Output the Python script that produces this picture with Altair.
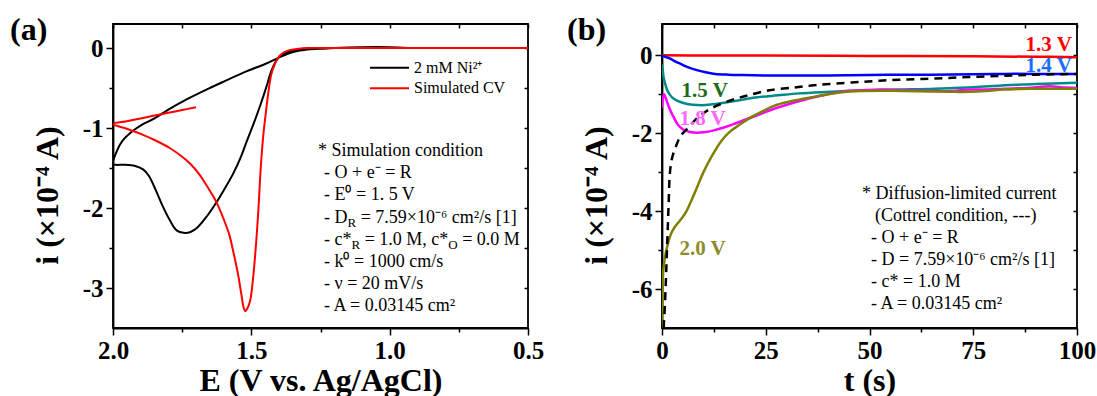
import altair as alt
import pandas as pd

FONT = "Liberation Serif"

# ---------------- Panel (a) data ----------------
e_ni = [0.93, 1.00, 1.10, 1.20, 1.26, 1.30, 1.35, 1.40, 1.45, 1.516, 1.60, 1.65, 1.744, 1.80, 1.85,
        1.896, 1.93, 1.966, 1.985, 2.0,
        1.99, 1.96, 1.92, 1.89, 1.87, 1.845, 1.82, 1.795, 1.77, 1.745, 1.72, 1.694, 1.66, 1.63,
        1.60, 1.567, 1.54, 1.516, 1.49, 1.466, 1.445, 1.428, 1.41, 1.39, 1.36, 1.327, 1.25, 1.20,
        1.10, 1.00, 0.93]
i_ni = [0.0, 0.01, 0.01, 0.0, -0.01, -0.02, -0.05, -0.12, -0.2, -0.29, -0.42, -0.5, -0.66, -0.77, -0.88,
        -0.96, -1.04, -1.16, -1.28, -1.45,
        -1.46, -1.46, -1.475, -1.52, -1.6, -1.78, -1.98, -2.15, -2.28, -2.31, -2.3, -2.24, -2.1, -1.95,
        -1.78, -1.58, -1.38, -1.16, -0.93, -0.70, -0.48, -0.29, -0.16, -0.08, -0.04, -0.02, -0.01, 0.0,
        0.01, 0.01, 0.0]

e_sim = [1.70, 1.75, 1.80, 1.85, 1.90, 1.95, 2.0, 1.95, 1.896, 1.85, 1.795, 1.75, 1.72, 1.69, 1.656,
         1.635, 1.618, 1.60, 1.58, 1.565, 1.548, 1.536, 1.528, 1.522, 1.515, 1.505, 1.495, 1.485,
         1.475, 1.466, 1.457, 1.447, 1.437, 1.428, 1.415, 1.403, 1.385, 1.365, 1.33, 1.30, 1.20,
         1.00, 0.50]
i_sim = [-0.74, -0.775, -0.81, -0.845, -0.88, -0.915, -0.95, -1.01, -1.08, -1.15, -1.25, -1.36, -1.45,
         -1.57, -1.75, -1.87, -1.99, -2.14, -2.33, -2.55, -2.83, -3.08, -3.24, -3.29, -3.26, -3.17,
         -2.92, -2.54, -2.05, -1.5, -1.1, -0.79, -0.52, -0.33, -0.2, -0.12, -0.06, -0.03, -0.01,
         0.0, 0.0, 0.0, 0.0]

cv_names = ["2 mM Ni²⁺", "Simulated CV"]
cv_colors = ["#000000", "#ff0000"]

# ---------------- Panel (b) data ----------------
t_13 = [0, 10, 25, 50, 75, 90, 100]
i_13 = [0.0, -0.01, -0.01, -0.02, -0.03, -0.04, -0.05]

t_14 = [0, 0.5, 1, 2, 3, 4, 5.2, 6.5, 8.6, 10.5, 12.8, 16, 19.5, 25, 32, 40, 50, 57, 65, 75, 82.5, 90, 100]
i_14 = [-0.02, -0.03, -0.05, -0.09, -0.15, -0.2, -0.26, -0.32, -0.39, -0.44, -0.48, -0.5, -0.51,
        -0.52, -0.52, -0.52, -0.51, -0.5, -0.5, -0.49, -0.48, -0.48, -0.48]

t_15 = [0, 0.2, 0.4, 0.8, 1.2, 1.8, 2.5, 3.5, 5, 6.5, 8.6, 10.5, 12.8, 16, 19.5, 23, 27.9, 33, 40.5,
        49, 57, 65.8, 75, 82.6, 90, 100]
i_15 = [-0.24, -0.4, -0.58, -0.75, -0.88, -1.0, -1.09, -1.16, -1.22, -1.26, -1.28, -1.28, -1.25,
        -1.2, -1.14, -1.08, -1.03, -0.98, -0.94, -0.9, -0.88, -0.86, -0.82, -0.77, -0.74, -0.71]

t_18 = [0, 0.2, 0.5, 0.9, 1.5, 2.1, 3, 3.8, 5, 6.7, 8.5, 10, 12.5, 15.1, 17.5, 20.2, 24, 27.7, 32,
        36.1, 40, 44.5, 48, 52.9, 58, 65.5, 70, 74, 78, 82.4, 88, 93.4, 96, 100]
i_18 = [-1.35, -1.1, -1.0, -1.1, -1.28, -1.44, -1.63, -1.78, -1.9, -1.97, -1.99, -1.98, -1.93, -1.85,
        -1.76, -1.65, -1.5, -1.35, -1.21, -1.09, -1.0, -0.92, -0.9, -0.88, -0.9, -0.92, -0.92, -0.88,
        -0.88, -0.86, -0.84, -0.8, -0.82, -0.84]

t_20 = [0, 0.1, 0.2, 0.5, 0.85, 1.4, 2.1, 3, 4.2, 5, 5.9, 7, 8.4, 10, 11.8, 14.3, 16.5, 18.5, 21,
        23.5, 27, 30.3, 33, 36.1, 40, 44.5, 48, 53, 58, 65.5, 70, 74, 78, 82.4, 86, 90.9, 95, 100]
i_20 = [-7.0, -6.4, -5.7, -5.35, -5.1, -4.85, -4.6, -4.42, -4.26, -4.15, -4.0, -3.75, -3.4, -3.0,
        -2.63, -2.2, -1.95, -1.8, -1.62, -1.48, -1.3, -1.2, -1.14, -1.08, -1.0, -0.94, -0.92, -0.91,
        -0.92, -0.93, -0.94, -0.94, -0.92, -0.88, -0.87, -0.86, -0.86, -0.86]

t_cot = [0.4, 0.7, 1.0, 1.3, 1.6, 1.85, 2.25, 2.8, 3.5, 4.5, 6.3, 8.4, 10.5, 13.1, 16.8, 20.4, 25.9,
         31.9, 36, 40.3, 48.7, 57, 65.5, 74, 82.4, 90, 100]
i_cot = [-7.0, -6.4, -5.6, -4.7, -3.8, -3.1, -2.72, -2.5, -2.3, -2.07, -1.86, -1.62, -1.45, -1.3,
         -1.15, -1.04, -0.9, -0.83, -0.78, -0.74, -0.68, -0.63, -0.6, -0.56, -0.53, -0.5, -0.48]

ca_names = ["1.3 V", "1.4 V", "1.5 V", "1.8 V", "2.0 V"]
ca_line_colors = ["#ff0000", "#0000ff", "#008b8b", "#ff00ff", "#808000"]
ca_label_colors = ["#ff0000", "#1c6dff", "#1d6b1d", "#ff66ff", "#8c8c2a"]
ca_label_t = [87.6, 87.6, 4.7, 4.2, 4.2]
ca_label_i = [0.27, -0.29, -0.93, -1.64, -4.98]

# ---------------- tables ----------------
cv = pd.DataFrame(
    [{"series": n, "E": e, "i": i, "k": k}
     for n, es, is_ in zip(cv_names, [e_ni, e_sim], [i_ni, i_sim])
     for k, (e, i) in enumerate(zip(es, is_))]
)
ca = pd.DataFrame(
    [{"series": n, "t": t, "i": i}
     for n, ts, is_ in zip(ca_names, [t_13, t_14, t_15, t_18, t_20], [i_13, i_14, i_15, i_18, i_20])
     for t, i in zip(ts, is_)]
)
cot = pd.DataFrame({"t": t_cot, "i": i_cot})
ca_lab = pd.DataFrame({"label": ca_names, "t": ca_label_t, "i": ca_label_i})

# ---------------- helpers ----------------
W, H = 415, 304


def tick_layers(df, xf, yf, xs, ys, xmin, ymin, xall, yall):
    minor = alt.Chart(df).mark_point(opacity=0).encode(
        x=alt.X(f"{xf}:Q", scale=xs, axis=alt.Axis(orient="bottom", values=xmin, labels=False,
                                                   domain=False, tickSize=4, title=None)),
        y=alt.Y(f"{yf}:Q", scale=ys, axis=alt.Axis(orient="left", values=ymin, labels=False,
                                                   domain=False, tickSize=4, title=None)),
    )
    mirror = alt.Chart(df).mark_point(opacity=0).encode(
        x=alt.X(f"{xf}:Q", scale=xs, axis=alt.Axis(orient="top", values=xall, labels=False,
                                                   domain=False, tickSize=4, offset=-4, title=None)),
        y=alt.Y(f"{yf}:Q", scale=ys, axis=alt.Axis(orient="right", values=yall, labels=False,
                                                   domain=False, tickSize=4, offset=-4, title=None)),
    )
    return [minor, mirror]


def txt(s, x, y, size=18, weight="normal", color="black"):
    return alt.Chart(alt.Data(values=[{}])).mark_text(
        text=s, font=FONT, fontSize=size, fontWeight=weight, color=color,
        align="left", baseline="middle"
    ).encode(x=alt.value(x), y=alt.value(y))


def legend_line(x1, x2, y, color):
    return alt.Chart(alt.Data(values=[{}])).mark_rule(color=color, strokeWidth=2).encode(
        x=alt.value(x1), x2=alt.value(x2), y=alt.value(y))


# ---------------- Panel (a) ----------------
xs_a = alt.Scale(domain=[0.5, 2.0], reverse=True, nice=False, zero=False)
ys_a = alt.Scale(domain=[-3.5, 0.3], nice=False, zero=False)
ylab = "datum.value < 0 ? '-' + format(-datum.value, 'd') : format(datum.value, 'd')"

lines_a = alt.Chart(cv).mark_line(strokeWidth=2, clip=True, interpolate="catmull-rom").encode(
    x=alt.X("E:Q", scale=xs_a, axis=alt.Axis(values=[2.0, 1.5, 1.0, 0.5],
                                            labelExpr="format(datum.value, '.1f')",
                                            title="E (V vs. Ag/AgCl)")),
    y=alt.Y("i:Q", scale=ys_a, axis=alt.Axis(values=[0, -1, -2, -3], labelExpr=ylab,
                                            title="i (×10⁻⁴ A)", titleY=171)),
    color=alt.Color("series:N", scale=alt.Scale(domain=cv_names, range=cv_colors), legend=None),
    order="k:Q",
)

ann_a = []
y0, dy = 127, 22.2
ann_a.append(txt("* Simulation condition", 205, y0))
ann_a.append(txt("- O + e⁻ = R", 211, y0 + dy))
ann_a.append(txt("- E⁰ = 1. 5 V", 211, y0 + 2 * dy))
ann_a.append(txt("- D", 211, y0 + 3 * dy))
ann_a.append(txt("R", 234.5, y0 + 3 * dy + 5, size=13))
ann_a.append(txt("= 7.59×10⁻⁶ cm²/s [1]", 247.7, y0 + 3 * dy))
ann_a.append(txt("- c*", 211, y0 + 4 * dy))
ann_a.append(txt("R", 238.5, y0 + 4 * dy + 5, size=13))
ann_a.append(txt("= 1.0 M, c*", 251.7, y0 + 4 * dy))
ann_a.append(txt("O", 335.3, y0 + 4 * dy + 5, size=13))
ann_a.append(txt("= 0.0 M", 349.2, y0 + 4 * dy))
ann_a.append(txt("- k⁰ = 1000 cm/s", 211, y0 + 5 * dy))
ann_a.append(txt("- ν = 20 mV/s", 211, y0 + 6 * dy))
ann_a.append(txt("- A = 0.03145 cm²", 211, y0 + 7 * dy))

leg_a = [
    legend_line(257, 296, 43.7, cv_colors[0]),
    legend_line(257, 296, 64.3, cv_colors[1]),
    txt(cv_names[0], 301, 43.7, size=16),
    txt(cv_names[1], 301, 64.3, size=16),
]

panel_a = alt.layer(
    lines_a,
    *tick_layers(cv, "E", "i", xs_a, ys_a, [1.75, 1.25, 0.75], [-0.5, -1.5, -2.5],
                 [2.0, 1.75, 1.5, 1.25, 1.0, 0.75, 0.5], [0, -0.5, -1, -1.5, -2, -2.5, -3]),
    *ann_a, *leg_a,
    txt("(a)", -103, 6, size=32, weight="bold"),
).resolve_scale(x="independent", y="independent", color="independent").properties(width=W, height=H)

# ---------------- Panel (b) ----------------
xs_b = alt.Scale(domain=[0, 100], nice=False, zero=False)
ys_b = alt.Scale(domain=[-7, 0.8], nice=False, zero=False)

lines_b = alt.Chart(ca).mark_line(strokeWidth=2.5, clip=True, interpolate="catmull-rom").encode(
    x=alt.X("t:Q", scale=xs_b, axis=alt.Axis(values=[0, 25, 50, 75, 100], format="d", title="t (s)")),
    y=alt.Y("i:Q", scale=ys_b, axis=alt.Axis(values=[0, -2, -4, -6], labelExpr=ylab,
                                            title="i (×10⁻⁴ A)", titleY=171)),
    color=alt.Color("series:N", scale=alt.Scale(domain=ca_names, range=ca_line_colors), legend=None),
)
dash_b = alt.Chart(cot).mark_line(strokeWidth=2.5, color="black", strokeDash=[8, 6], clip=True,
                                  interpolate="catmull-rom").encode(
    x=alt.X("t:Q", scale=xs_b, axis=None),
    y=alt.Y("i:Q", scale=ys_b, axis=None),
)
labels_b = alt.Chart(ca_lab).mark_text(font=FONT, fontSize=21, fontWeight="bold",
                                       align="left", baseline="middle").encode(
    x=alt.X("t:Q", scale=xs_b, axis=None),
    y=alt.Y("i:Q", scale=ys_b, axis=None),
    text="label:N",
    color=alt.Color("label:N", scale=alt.Scale(domain=ca_names, range=ca_label_colors), legend=None),
)

ann_b = []
yb, dyb = 170, 22
ann_b.append(txt("* Diffusion-limited current", 200, yb))
ann_b.append(txt("(Cottrel condition, ---)", 213, yb + dyb))
ann_b.append(txt("- O + e⁻ = R", 209, yb + 2 * dyb))
ann_b.append(txt("- D = 7.59×10⁻⁶ cm²/s [1]", 209, yb + 3 * dyb))
ann_b.append(txt("- c* = 1.0 M", 209, yb + 4 * dyb))
ann_b.append(txt("- A = 0.03145 cm²", 209, yb + 5 * dyb))

panel_b = alt.layer(
    lines_b, dash_b, labels_b,
    *tick_layers(ca, "t", "i", xs_b, ys_b, [12.5, 37.5, 62.5, 87.5], [-1, -3, -5],
                 [0, 12.5, 25, 37.5, 50, 62.5, 75, 87.5, 100], [0, -1, -2, -3, -4, -5, -6]),
    *ann_b,
    txt("(b)", -95, 6, size=32, weight="bold"),
).resolve_scale(x="independent", y="independent", color="independent").properties(width=W, height=H)

chart = alt.hconcat(panel_a, panel_b, spacing=21).resolve_scale(
    color="independent"
).properties(
    padding={"left": 9, "top": 13, "right": 0, "bottom": 0}
).configure_view(
    stroke="black", strokeWidth=1.8
).configure_axis(
    grid=False,
    domainColor="black", domainWidth=1.8,
    tickColor="black", tickWidth=1.5, tickSize=7,
    labelFont=FONT, labelFontSize=25, labelFontWeight="bold", labelColor="black", labelPadding=3,
    labelFlush=False,
    titleFont=FONT, titleFontSize=32, titleFontWeight="bold", titleColor="black",
).configure_axisX(titlePadding=2).configure_axisY(titlePadding=18)

chart.save("out.html", embed_options={"renderer": "svg", "actions": False})
